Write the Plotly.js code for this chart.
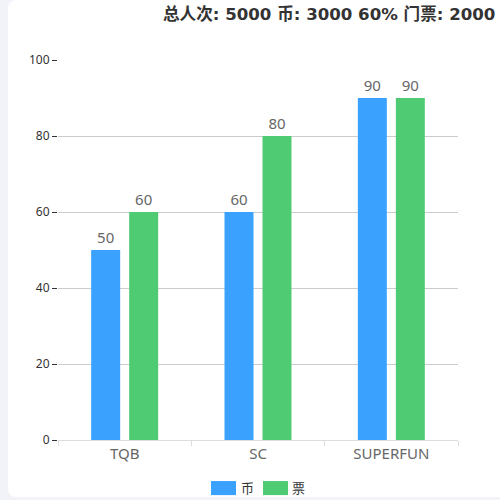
<!DOCTYPE html>
<html>
<head>
<meta charset="utf-8">
<script src="https://cdn.plot.ly/plotly-3.0.1.min.js"></script>
<style>
  html, body { margin: 0; padding: 0; background: #f2f3f8; overflow: hidden; }
  #card { position: absolute; left: 8px; top: 0; width: 520px; height: 497px; background: #fff; border-radius: 8px; }
  #chart { position: absolute; left: 0; top: 0; width: 500px; height: 500px; }
</style>
</head>
<body>
<div id="card"></div>
<div id="chart"></div>
<script>
// chart data
const categories = ["TQB", "SC", "SUPERFUN"];
const seriesNames = ["币", "票"];
const coinValues = [50, 60, 90];
const ticketValues = [60, 80, 90];
const titleText = "总人次: 5000 币: 3000 60% 门票: 2000 40%";

const BLUE = "#3aa1ff";
const GREEN = "#4ecb73";
const FONT = "Noto Sans, Noto Sans CJK SC, sans-serif";

function barTrace(name, values, color) {
  return {
    type: "bar",
    name: name,
    x: categories,
    y: values,
    marker: { color: color },
    text: values.map(String),
    textposition: "outside",
    textfont: { size: 15, color: "#666" },
    cliponaxis: false,
    hoverinfo: "x+y",
  };
}

// legend built by hand: wide swatches under the plot
const legendColors = [BLUE, GREEN];
const legendX = [[0.3825, 0.445], [0.5125, 0.575]];
const legendTextX = [0.4725, 0.6];
const shapes = legendColors.map((c, i) => ({
  type: "rect", xref: "paper", yref: "paper",
  x0: legendX[i][0], x1: legendX[i][1], y0: -0.108, y1: -0.145,
  fillcolor: c, line: { width: 0 },
}));
const annotations = seriesNames.map((n, i) => ({
  text: n, xref: "paper", yref: "paper",
  x: legendTextX[i], y: -0.1263, xanchor: "center", yanchor: "middle",
  showarrow: false, font: { size: 13, color: "#333", family: FONT },
}));

Plotly.newPlot("chart", [
  barTrace(seriesNames[0], coinValues, BLUE),
  barTrace(seriesNames[1], ticketValues, GREEN),
], {
  width: 500, height: 500,
  paper_bgcolor: "rgba(0,0,0,0)",
  plot_bgcolor: "rgba(0,0,0,0)",
  font: { family: FONT, color: "#333" },
  margin: { l: 58, r: 42, t: 60, b: 60 },
  title: {
    text: "<b>" + titleText + "</b>",
    xref: "container", yref: "container",
    x: 163 / 500, xanchor: "left", y: 1 - 14 / 500, yanchor: "middle",
    font: { size: 16.6, color: "#333", family: "DejaVu Sans, Noto Sans CJK SC, sans-serif" },
  },
  barmode: "group",
  bargap: 0.43,
  bargroupgap: 0.237,
  showlegend: false,
  xaxis: {
    showline: true, linecolor: "#ddd", linewidth: 1,
    ticks: "outside", tickson: "boundaries", ticklen: 5, tickcolor: "#ddd",
    tickfont: { size: 15, color: "#666" },
    showgrid: false,
  },
  yaxis: {
    range: [0, 100], dtick: 20,
    showgrid: true, gridcolor: "#ccc",
    zeroline: false,
    ticks: "outside", ticklen: 5, tickcolor: "#333",
    tickfont: { size: 12, color: "#333" },
  },
  shapes: shapes,
  annotations: annotations,
}, { displayModeBar: false, staticPlot: true });
</script>
</body>
</html>
